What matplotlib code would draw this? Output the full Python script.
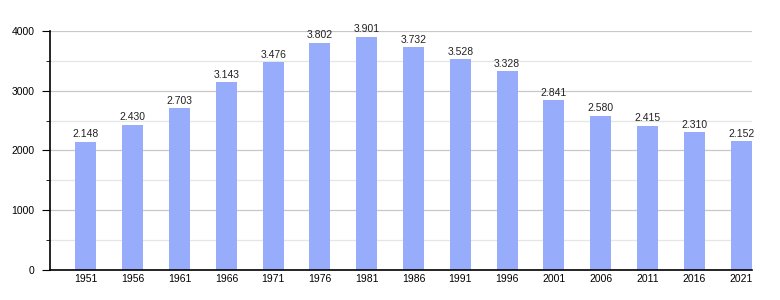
import numpy as np
import matplotlib.pyplot as plt
from matplotlib.ticker import MultipleLocator

years = ["1951", "1956", "1961", "1966", "1971", "1976", "1981", "1986",
         "1991", "1996", "2001", "2006", "2011", "2016", "2021"]
population = [2148, 2430, 2703, 3143, 3476, 3802, 3901, 3732,
              3528, 3328, 2841, 2580, 2415, 2310, 2152]

plt.rcParams['font.family'] = ['Liberation Sans', 'DejaVu Sans']

fig = plt.figure(figsize=(7.8, 3.0), dpi=100)
ax = fig.add_axes([0.064, 0.1, 0.9, 0.797])

x = np.arange(len(years))
ax.bar(x, population, width=0.45, color="#98acfc", zorder=2)
for xi, v in zip(x, population):
    ax.text(xi, v + 40, "{:,}".format(v).replace(",", "."), ha="center", va="bottom",
            fontsize=7.5, color="#222222")

ax.set_xlim(-0.77, 14.23)
ax.set_ylim(0, 4000)
ax.set_xticks(x)
ax.set_xticklabels(years)
ax.yaxis.set_major_locator(MultipleLocator(1000))
ax.yaxis.set_minor_locator(MultipleLocator(500))
ax.grid(axis="y", which="major", color="#c8c8c8", lw=0.9, zorder=0)
ax.grid(axis="y", which="minor", color="#e6e6e6", lw=0.9, zorder=0)
ax.tick_params(axis="x", length=0, labelsize=7.5, pad=3)
ax.tick_params(axis="y", which="major", length=6, labelsize=7.5, pad=5)
ax.tick_params(axis="y", which="minor", length=3)
for s in ["top", "right"]:
    ax.spines[s].set_visible(False)
ax.spines["left"].set_linewidth(1.2)
ax.spines["bottom"].set_linewidth(1.2)

fig.savefig("out.png", dpi=100)
